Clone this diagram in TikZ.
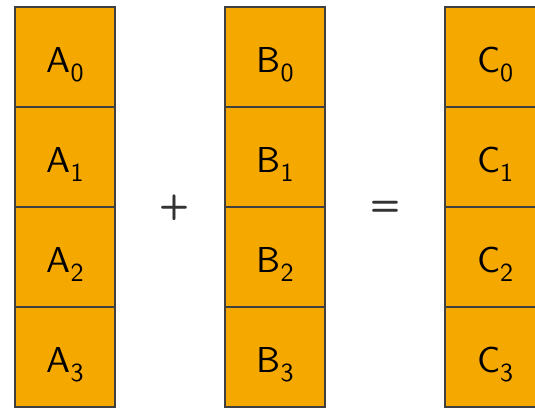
\documentclass[tikz,border=0pt]{standalone}
\usepackage{fontspec}
\usepackage{tikz}
\usetikzlibrary{positioning}
\newfontfamily\cellfont{lmsans10-regular.otf}[BoldFont=lmsans10-bold.otf]
\definecolor{cellorange}{RGB}{245, 168, 0}
\definecolor{cellframe}{RGB}{64, 64, 64}
\definecolor{opgray}{RGB}{51, 51, 51}
\newcommand{\cellname}[2]{#1\raisebox{-9pt}{\fontsize{26}{26}\selectfont #2}}

\begin{document}
\begin{tikzpicture}[
    x=1pt, y=-1pt,
    cell/.style={rectangle, draw=cellframe, fill=cellorange, line width=2pt,
                 minimum width=100pt, minimum height=100pt, inner sep=0pt,
                 outer sep=0pt, text height=30pt, text depth=0pt,
                 font=\fontsize{36}{36}\selectfont\cellfont},
    op/.style={font=\fontsize{35}{35}\selectfont\cellfont\bfseries\color{opgray}},
]
\useasboundingbox (0,0) rectangle (535,408);

% Column tops
\node[cell] (a0) at (65,57) {\cellname{A}{0}};
\node[cell] (b0) at (275,57) {\cellname{B}{0}};
\node[cell] (c0) at (495,57) {\cellname{C}{0}};

% Remaining cells, stacked below
\foreach \i [remember=\i as \j (initially 0)] in {1,2,3} {
    \node[cell, below=0pt of a\j] (a\i) {\cellname{A}{\i}};
    \node[cell, below=0pt of b\j] (b\i) {\cellname{B}{\i}};
    \node[cell, below=0pt of c\j] (c\i) {\cellname{C}{\i}};
}

% Operators
\node[op] (plus) at (174,208) {+};
\node[op] (equals) at (385,208) {=};

\end{tikzpicture}
\end{document}
